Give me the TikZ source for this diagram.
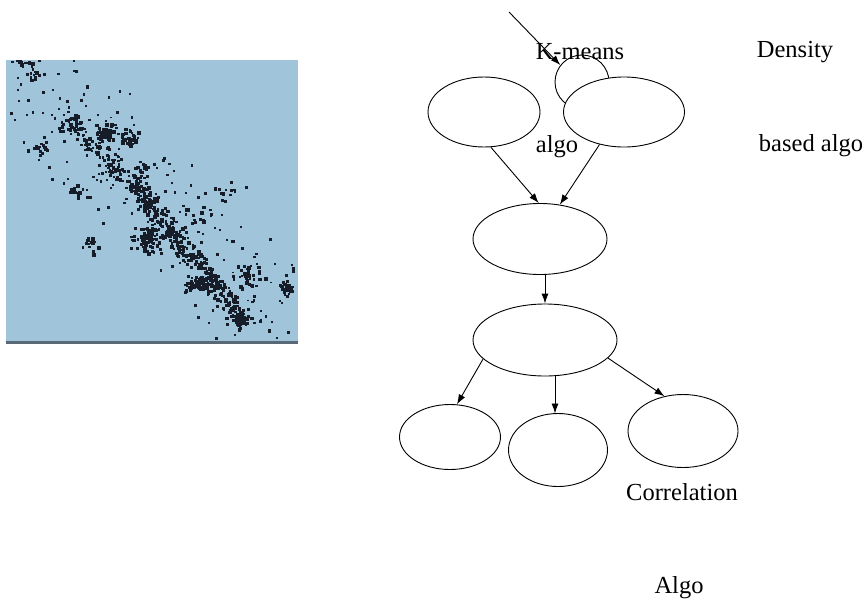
\documentclass[tikz,border=0pt]{standalone}
\usepackage{fontspec}
\setmainfont{Liberation Serif}
\usetikzlibrary{shapes.geometric,arrows.meta}
\definecolor{bgblue}{RGB}{160,196,218}
\definecolor{dotc}{RGB}{22,28,40}
\definecolor{edgec}{RGB}{88,104,116}
\tikzset{
  ell/.style={ellipse, draw, fill=white, inner sep=0pt, line width=0.9pt},
  arr/.style={-{Latex[length=10pt,width=7pt]}, line width=0.9pt},
  lbl/.style={font=\fontsize{24.5}{29}\selectfont, anchor=base, inner sep=0pt},
  dotsq/.style={fill=dotc}
}
\begin{document}
\begin{tikzpicture}[x=1pt,y=-1pt]
\useasboundingbox (0,0) rectangle (867,603);
% scatter plot
\begin{scope}
\clip (6,60) rectangle (298,341);
\fill[bgblue] (6,60) rectangle (298,341);
\pgfmathsetseed{11}
% broad diagonal scatter
\foreach \k in {1,...,260}{
  \pgfmathsetmacro\t{rnd}
  \pgfmathsetmacro\px{10+\t*285}
  \pgfmathsetmacro\py{62+\t*275+(rand+rand)*45}
  \pgfmathsetmacro\sz{1.8+rnd*1.6}
  \fill[dotsq] (\px,\py) rectangle ++(\sz,\sz);
}
% main band
\foreach \k in {1,...,340}{
  \pgfmathsetmacro\t{rnd}
  \pgfmathsetmacro\u{(rand+rand)*4.5}
  \pgfmathsetmacro\px{127+\t*118+\u}
  \pgfmathsetmacro\py{177+\t*145-\u*0.8+rand*2}
  \pgfmathsetmacro\sz{2.2+rnd*1.6}
  \fill[dotsq] (\px,\py) rectangle ++(\sz,\sz);
}
% upper band
\foreach \k in {1,...,80}{
  \pgfmathsetmacro\t{rnd}
  \pgfmathsetmacro\u{(rand+rand)*5}
  \pgfmathsetmacro\px{63+\t*64+\u}
  \pgfmathsetmacro\py{118+\t*59-\u*0.8}
  \pgfmathsetmacro\sz{2+rnd*1.5}
  \fill[dotsq] (\px,\py) rectangle ++(\sz,\sz);
}
% clusters
\foreach \cx/\cy/\sx/\sy/\n in {107/132/9/8/40, 128/136/7/7/35, 40/147/6/5/16, 77/190/9/6/18, 90/243/7/8/14, 287/285/6/5/24, 250/275/13/9/26, 32/72/5/7/12, 22/62/6/3/8, 145/238/12/11/80, 200/282/12/6/55, 70/125/8/6/20, 112/168/6/10/16, 225/190/14/8/12, 200/215/14/10/14, 140/165/6/8/14, 238/318/6/5/12}{
  \foreach \k in {1,...,\n}{
    \pgfmathsetmacro\px{\cx+(rand+rand)*\sx/1.3}
    \pgfmathsetmacro\py{\cy+(rand+rand)*\sy/1.3}
    \pgfmathsetmacro\sz{2.2+rnd*1.6}
    \fill[dotsq] (\px,\py) rectangle ++(\sz,\sz);
  }
}
\end{scope}
\fill[edgec] (6,340.5) rectangle (298,343.5);

% diagram
\node[circle, draw, line width=0.9pt, minimum size=54pt, inner sep=0pt] (c0) at (582,82) {};
\coordinate (src) at (509,12);
\draw[arr] (src) -- (c0.142);

\node[ell, minimum width=112pt, minimum height=70pt] (e1) at (484,112) {};
\node[ell, minimum width=121pt, minimum height=70pt] (e2) at (624,112) {};
\node[ell, minimum width=134pt, minimum height=71pt] (e3) at (540,239) {};
\node[ell, minimum width=144pt, minimum height=72pt] (e4) at (545,340) {};
\node[ell, minimum width=101pt, minimum height=65pt] (e5) at (450,437) {};
\node[ell, minimum width=99pt, minimum height=73pt] (e6) at (558,450) {};
\node[ell, minimum width=110pt, minimum height=73pt] (e7) at (683,431) {};

\draw[arr] (e1.-79) -- (e3.92);
\draw[arr] (e2.-127) -- (e3.60);
\draw[arr] (e3.south -| e4.north) -- (e4.north);
\draw[arr] (e4.-163) -- (e5.78);
\draw[arr] (e4.south -| 555,0) -- (555,413.5);
\draw[arr] (e4.-16) -- (e7.118);

\node[lbl] (t1) at (580,59) {K-means};
\node[lbl] (t2) at (795,57) {Density};
\node[lbl] (t3) at (557,152) {algo};
\node[lbl] (t4) at (811,151) {based algo};
\node[lbl] (t5) at (682,500) {Correlation};
\node[lbl] (t6) at (679,593) {Algo};
\end{tikzpicture}
\end{document}
